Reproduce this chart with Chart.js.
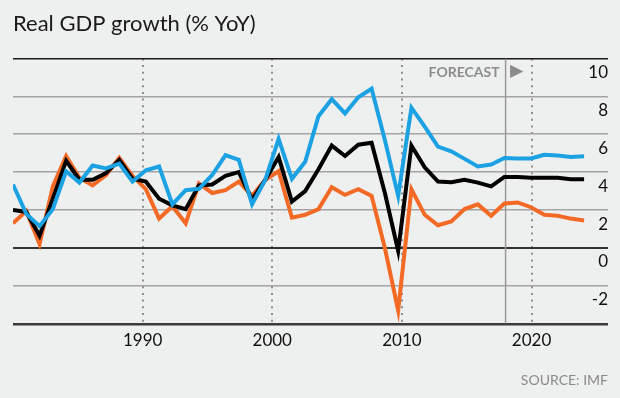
<!DOCTYPE html>
<html><head><meta charset="utf-8">
<script src="https://cdn.jsdelivr.net/npm/chart.js@4.4.1/dist/chart.umd.min.js"></script>
<style>
html,body{margin:0;padding:0;background:#eef0ef;}
#wrap{width:620px;height:398px;}
canvas{display:block;}
</style></head><body>
<div id="wrap"><canvas id="c" width="620" height="398"></canvas></div>
<script>
const years = [1980,1981,1982,1983,1984,1985,1986,1987,1988,1989,
               1990,1991,1992,1993,1994,1995,1996,1997,1998,1999,
               2000,2001,2002,2003,2004,2005,2006,2007,2008,2009,
               2010,2011,2012,2013,2014,2015,2016,2017,2018,2019,
               2020,2021,2022,2023];
const emerging = [3.35,1.8,1.15,2.05,4.05,3.45,4.35,4.2,4.45,3.5,
                  4.1,4.3,2.3,3.05,3.12,3.85,4.9,4.65,2.3,3.6,
                  5.75,3.65,4.55,6.95,7.85,7.1,7.95,8.4,5.7,2.75,
                  7.4,6.4,5.35,5.1,4.7,4.3,4.4,4.75,4.72,4.72,
                  4.92,4.88,4.8,4.84];
const world = [2.0,1.9,0.65,2.6,4.6,3.6,3.6,3.95,4.65,3.65,
               3.5,2.6,2.25,2.05,3.3,3.35,3.8,4.0,2.55,3.6,
               4.8,2.45,3.0,4.15,5.4,4.85,5.45,5.55,2.9,-0.15,
               5.4,4.25,3.5,3.47,3.6,3.45,3.25,3.75,3.75,3.7,
               3.7,3.7,3.62,3.62];
const advanced = [1.3,1.95,0.2,3.25,4.85,3.7,3.3,3.85,4.75,3.8,
                  3.1,1.55,2.2,1.3,3.4,2.9,3.05,3.5,2.75,3.6,
                  4.05,1.6,1.75,2.05,3.2,2.8,3.1,2.75,0.0,-3.3,
                  3.1,1.75,1.2,1.4,2.05,2.3,1.7,2.35,2.4,2.15,
                  1.75,1.7,1.55,1.45];
const yTickLabels = [10,8,6,4,2,0,-2];
const decadeTicks = [1990,2000,2010,2020];
const forecastStart = 2018;
const yMin = -4, yMax = 10;
const titleText = 'Real GDP growth (% YoY)';
const sourceText = 'SOURCE: IMF';
const forecastText = 'FORECAST';

const pts = vals => years.map((yr, i) => ({x: yr, y: vals[i]}));
const lineStyle = (color) => ({borderColor: color, backgroundColor: color, borderWidth: 4, pointRadius: 0, tension: 0, fill: false, xAxisID: 'x', yAxisID: 'y'});

const forecastLabel = {
  id: 'forecastLabel',
  beforeDatasetsDraw(chart) {
    const ctx = chart.ctx;
    const xs = chart.scales.x2, ys = chart.scales.y;
    const px = xs.getPixelForValue(forecastStart);
    const py = ys.getPixelForValue(yMax) + 13;
    ctx.save();
    ctx.fillStyle = '#8c8c8c';
    ctx.font = 'bold 14px Lato';
    ctx.textAlign = 'right';
    ctx.textBaseline = 'middle';
    ctx.fillText(forecastText, px - 6, py + 1);
    ctx.beginPath();
    ctx.moveTo(px + 4.5, py - 6.7);
    ctx.lineTo(px + 17.8, py);
    ctx.lineTo(px + 4.5, py + 6.7);
    ctx.closePath();
    ctx.fill();
    ctx.restore();
  }
};

new Chart(document.getElementById('c'), {
  type: 'line',
  data: {
    datasets: [
      Object.assign({label: 'Emerging & developing', data: pts(emerging)}, lineStyle('#1ca2e2')),
      Object.assign({label: 'World', data: pts(world)}, lineStyle('#000000')),
      Object.assign({label: 'Advanced', data: pts(advanced)}, lineStyle('#f26a25')),
      {label: 'Forecast', data: [{x: forecastStart, y: yMin}, {x: forecastStart, y: yMax}], xAxisID: 'x2', yAxisID: 'y',
       borderColor: '#9a9a9a', borderWidth: 1.5, pointRadius: 0, fill: false}
    ]
  },
  options: {
    responsive: false,
    animation: false,
    events: [],
    layout: {padding: {left: 13, right: 12, top: 0, bottom: 9}},
    plugins: {
      legend: {display: false},
      tooltip: {enabled: false},
      title: {display: true, text: titleText, align: 'start', color: '#1a1a1a',
              font: {family: 'Lato', size: 22, weight: 'normal'}, padding: {top: 11, bottom: 21}},
      subtitle: {display: true, text: sourceText, position: 'bottom', align: 'end', color: '#8a8a8a',
                 font: {family: 'Lato', size: 14, weight: 'normal'}, padding: {top: 14, bottom: 0}}
    },
    scales: {
      x: {type: 'linear', min: 1980, max: 2024.8, display: false},
      x2: {type: 'linear', position: 'bottom', min: 1980, max: 2025.9,
           afterBuildTicks: s => { s.ticks = decadeTicks.map(v => ({value: v})); },
           grid: {color: '#8f8f8f', lineWidth: 2, drawTicks: false},
           border: {display: false, dash: [2, 4.7]},
           ticks: {color: '#111', font: {family: 'Lato', size: 17}, padding: 7, autoSkip: false, maxRotation: 0,
                   callback: v => String(v)}},
      y: {position: 'right', min: yMin, max: yMax,
          ticks: {stepSize: 2, mirror: true, labelOffset: 14, padding: 0, color: '#111',
                  font: {family: 'Lato', size: 17},
                  callback: v => yTickLabels.includes(v) ? String(v) : ''},
          grid: {drawTicks: false,
                 color: c => c.tick.value === 0 ? '#333333' : (c.tick.value === yMax ? '#1a1a1a' : (c.tick.value === yMin ? '#3a3a3a' : '#a4a4a4')),
                 lineWidth: c => c.tick.value === yMin ? 2.5 : (c.tick.value === 0 ? 2 : 1.5)},
          border: {display: false}}
    }
  },
  plugins: [forecastLabel]
});
</script>
</body></html>
